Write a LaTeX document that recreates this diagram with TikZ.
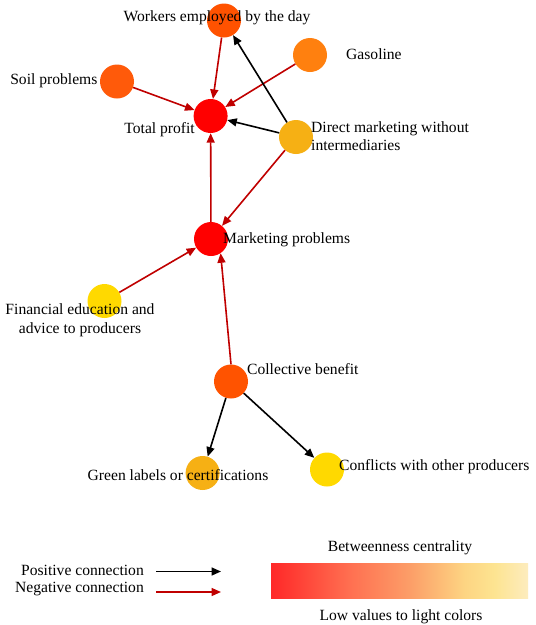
\documentclass[tikz,border=0pt]{standalone}
\usepackage{fontspec}
\setmainfont{Liberation Serif}
\usetikzlibrary{arrows.meta}
\definecolor{negred}{HTML}{C00000}
\definecolor{cWork}{HTML}{FF5200}
\definecolor{cSoil}{HTML}{FF5A0A}
\definecolor{cGas}{HTML}{FF800F}
\definecolor{cRed}{HTML}{FF0000}
\definecolor{cAmber}{HTML}{F6B014}
\definecolor{cGold}{HTML}{FFD900}
\definecolor{cColl}{HTML}{FF5300}
\definecolor{gA}{RGB}{255,40,40}
\definecolor{gB}{RGB}{255,110,80}
\definecolor{gC}{RGB}{252,160,105}
\definecolor{gD}{RGB}{253,212,130}
\definecolor{gE}{RGB}{253,228,145}
\definecolor{gF}{RGB}{253,236,190}
\pgfdeclarehorizontalshading{centrality}{100bp}{color(0bp)=(gA); color(25bp)=(gA); color(40bp)=(gB); color(52.5bp)=(gC); color(62.5bp)=(gD); color(68.5bp)=(gE); color(75bp)=(gF); color(100bp)=(gF)}
\begin{document}
\begin{tikzpicture}[x=1pt,y=-1pt,
  dot/.style={circle,minimum size=34pt,inner sep=0pt,draw=none},
  lbl/.style={inner sep=0pt,font=\fontsize{15.6}{18.5}\selectfont,text=black},
  posarrow/.style={draw=black,line width=1.6pt,-{Triangle[length=9.5pt,width=8pt]}},
  negarrow/.style={posarrow,draw=negred}]
\fill[white] (0,0) rectangle (536,625);
\useasboundingbox (0,0) rectangle (536,625);
% circles
\node[dot,fill=cWork] (work) at (224,20.5) {};
\node[dot,fill=cGas] (gas) at (310,55) {};
\node[dot,fill=cSoil] (soil) at (117,81.5) {};
\node[dot,fill=cRed] (tp) at (210.6,116) {};
\node[dot,fill=cAmber] (dm) at (296,137) {};
\node[dot,fill=cRed] (mp) at (211,239) {};
\node[dot,fill=cGold] (fe) at (104.5,301) {};
\node[dot,fill=cColl] (cb) at (231,381.5) {};
\node[dot,fill=cAmber] (gl) at (202.6,473) {};
\node[dot,fill=cGold] (cf) at (327,469.5) {};
% connectors
\draw[negarrow] (work) -- (tp);
\draw[negarrow] (gas) -- (tp);
\draw[negarrow] (soil) -- (tp);
\draw[posarrow] (dm) -- (tp);
\draw[posarrow] (dm) -- (work);
\draw[negarrow] (dm) -- (mp);
\draw[negarrow] (mp) -- (tp);
\draw[negarrow] (fe) -- (mp);
\draw[negarrow] (cb.north) -- (mp.-56);
\draw[posarrow] (cb) -- (gl);
\draw[posarrow] (cb) -- (cf);
% labels
\node[lbl] (workL) at (217,18) {Workers employed by the day};
\node[lbl,anchor=west] (gasL) at (346,54) {Gasoline};
\node[lbl,anchor=east] (soilL) at (97.6,81) {Soil problems};
\node[lbl,anchor=east] (tpL) at (195,130) {Total profit};
\node[lbl,anchor=west,align=left] (dmL) at (311,136) {Direct marketing without\\intermediaries};
\node[lbl,anchor=west] (mpL) at (223,239.5) {Marketing problems};
\node[lbl,align=center] (feL) at (80,320) {Financial education and\\advice to producers};
\node[lbl,anchor=west] (cbL) at (247,369) {Collective benefit};
\node[lbl] (glL) at (178,475) {Green labels or certifications};
\node[lbl,anchor=west] (cfL) at (339,467) {Conflicts with other producers};
% legend
\node[lbl,anchor=east] (posL) at (144,570) {Positive connection};
\node[lbl,anchor=east] (negL) at (144,589) {Negative connection};
\coordinate (p1) at (156,571.5);
\coordinate (p2) at (221,571.5);
\coordinate (n1) at (156,592);
\coordinate (n2) at (221,592);
\draw[posarrow] (p1) -- (p2);
\draw[negarrow] (n1) -- (n2);
\node[lbl] (bcL) at (400,548) {Betweenness centrality};
\shade[shading=centrality] (271,563) rectangle (528,598);
\node[lbl] (lowL) at (401,617) {Low values to light colors};
\end{tikzpicture}
\end{document}
